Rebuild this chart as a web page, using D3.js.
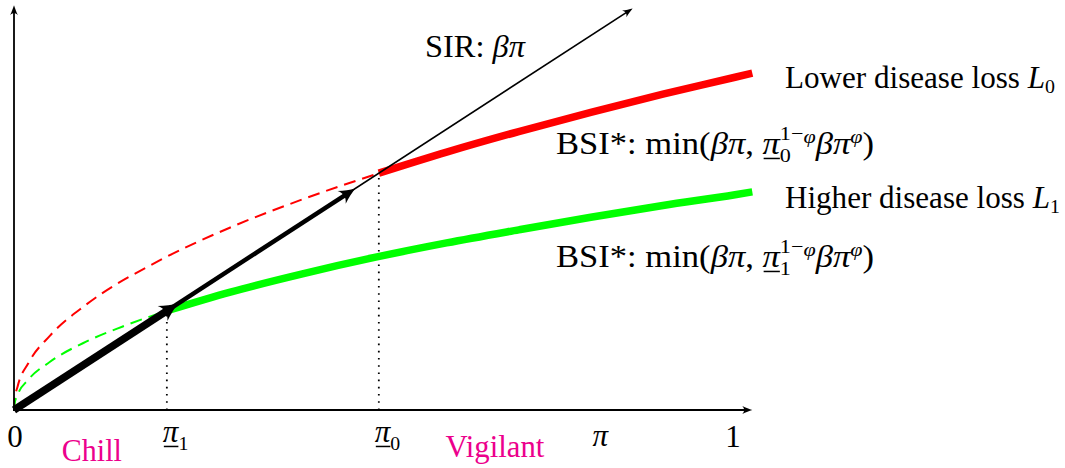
<!DOCTYPE html>
<html><head><meta charset="utf-8">
<script src="https://cdn.jsdelivr.net/npm/d3@7"></script>
<style>html,body{margin:0;padding:0;background:#fff}svg{display:block}text{white-space:pre}</style>
</head><body><svg id="c" width="1065" height="468"></svg>
<script>
// ---- data ----
const beta = 1, phi = 0.5;
const piLow0 = 0.506, piLow1 = 0.212;           // thresholds
const redDashPi   = [0, 0.001, 0.005, 0.02, 0.05, 0.1, 0.2, 0.3, 0.4, 0.506];
const redDashY    = [0, 0.0225, 0.0503, 0.1006, 0.159, 0.225, 0.318, 0.390, 0.450, 0.506];
const redSolidPi  = [0.506, 0.6, 0.7, 0.8, 0.9, 1.0, 1.024];
const redSolidY   = [0.506, 0.551, 0.595, 0.636, 0.675, 0.711, 0.720];
const greenDashPi = [0, 0.001, 0.005, 0.02, 0.05, 0.1, 0.15, 0.212];
const greenDashY  = [0, 0.0146, 0.0326, 0.0651, 0.103, 0.146, 0.178, 0.212];
const greenSolidPi= [0.212, 0.3, 0.4, 0.5, 0.6, 0.7, 0.8, 0.9, 1.0, 1.024];
const greenSolidY = [0.212, 0.252, 0.291, 0.326, 0.357, 0.385, 0.412, 0.437, 0.460, 0.466];
const sirPi = [0, 0.858], sirY = [0, 0.858];
const chillArrowPi = [0, 0.227], chillArrowY = [0, 0.227];
const vigArrowPi = [0.212, 0.473], vigArrowY = [0.212, 0.473];
const axisMaxPi = 1.024, axisMaxY = 0.865;
const tickValues = [0, piLow1, piLow0, 1];
const regionLabels = ["Chill", "Vigilant"];
const regionPos = [0.108, 0.667];

// ---- scales ----
const svg = d3.select("#c");
const x = d3.scaleLinear().domain([0, 1]).range([14, 735]);
const y = d3.scaleLinear().domain([0, 1]).range([410, 410 - 468]);
const FONT = "'Liberation Serif', 'Times New Roman', serif";
const fs = 31;

const line = d3.line().x(d => x(d[0])).y(d => y(d[1])).curve(d3.curveMonotoneX);
const zip = (a, b) => a.map((v, i) => [v, b[i]]);

function arrowHead(g, p0, p1, len, hw, color) {
  const ang = Math.atan2(p1[1] - p0[1], p1[0] - p0[0]) * 180 / Math.PI;
  g.append("path")
    .attr("d", `M0,0 C${-len*0.3},${-hw*0.25} ${-len*0.65},${-hw*0.55} ${-len},${-hw} C${-len*0.75},${-hw*0.35} ${-len*0.75},${hw*0.35} ${-len},${hw} C${-len*0.65},${hw*0.55} ${-len*0.3},${hw*0.25} 0,0 Z`)
    .attr("transform", `translate(${p1[0]},${p1[1]}) rotate(${ang})`)
    .attr("fill", color);
}
function shorten(p0, p1, d) {
  const L = Math.hypot(p1[0]-p0[0], p1[1]-p0[1]);
  return [p1[0] - (p1[0]-p0[0]) * d / L, p1[1] - (p1[1]-p0[1]) * d / L];
}

// dashed curves
svg.append("path").attr("d", line(zip(redDashPi, redDashY))).attr("fill", "none")
  .attr("stroke", "#ff0000").attr("stroke-width", 2).attr("stroke-dasharray", "12,7");
svg.append("path").attr("d", line(zip(greenDashPi, greenDashY))).attr("fill", "none")
  .attr("stroke", "#00ff00").attr("stroke-width", 2).attr("stroke-dasharray", "12,7");

// dotted verticals
[piLow1, piLow0].forEach(p => {
  svg.append("line").attr("x1", x(p)).attr("x2", x(p)).attr("y1", y(0)).attr("y2", y(beta * p))
    .attr("stroke", "#000").attr("stroke-width", 1.8).attr("stroke-dasharray", "1.6,5.6");
});

// solid curves
svg.append("path").attr("d", line(zip(greenSolidPi, greenSolidY))).attr("fill", "none")
  .attr("stroke", "#00ff00").attr("stroke-width", 7.5);
svg.append("path").attr("d", line(zip(redSolidPi, redSolidY))).attr("fill", "none")
  .attr("stroke", "#ff0000").attr("stroke-width", 7.5);

// SIR line
{
  const p0 = [x(sirPi[0]), y(sirY[0])], p1 = [x(sirPi[1]), y(sirY[1])];
  const e = shorten(p0, p1, 4);
  svg.append("line").attr("x1", p0[0]).attr("y1", p0[1]).attr("x2", e[0]).attr("y2", e[1])
    .attr("stroke", "#000").attr("stroke-width", 1.7);
  arrowHead(svg, p0, p1, 10, 4, "#000");
}

// black arrows
{
  const p0 = [x(chillArrowPi[0]), y(chillArrowY[0])], p1 = [x(chillArrowPi[1]), y(chillArrowY[1])];
  const e = shorten(p0, p1, 12);
  svg.append("line").attr("x1", p0[0]).attr("y1", p0[1]).attr("x2", e[0]).attr("y2", e[1])
    .attr("stroke", "#000").attr("stroke-width", 7.5);
  arrowHead(svg, p0, p1, 18, 9, "#000");
}
{
  const p0 = [x(vigArrowPi[0]), y(vigArrowY[0])], p1 = [x(vigArrowPi[1]), y(vigArrowY[1])];
  const e = shorten(p0, p1, 10);
  svg.append("line").attr("x1", p0[0]).attr("y1", p0[1]).attr("x2", e[0]).attr("y2", e[1])
    .attr("stroke", "#000").attr("stroke-width", 4.5);
  arrowHead(svg, p0, p1, 16, 7.5, "#000");
}

// axes
{
  const o = [x(0), y(0)];
  const xe = [x(axisMaxPi), y(0)], ye = [x(0), y(axisMaxY)];
  let e = shorten(o, xe, 5);
  svg.append("line").attr("x1", o[0]-1).attr("y1", o[1]).attr("x2", e[0]).attr("y2", e[1]).attr("stroke", "#000").attr("stroke-width", 1.8);
  arrowHead(svg, o, xe, 10, 4, "#000");
  e = shorten(o, ye, 5);
  svg.append("line").attr("x1", o[0]).attr("y1", o[1]+1).attr("x2", e[0]).attr("y2", e[1]).attr("stroke", "#000").attr("stroke-width", 1.8);
  arrowHead(svg, o, ye, 10, 4, "#000");
}

// ---- math text helper ----
function mathText(px, py, parts, anchor, color, targetW) {
  const g = svg.append("g").attr("font-family", FONT).attr("fill", color || "#000");
  let cx = 0, stackW = null;
  parts.forEach(p => {
    const size = (p.sup || p.sub) ? fs * 0.64 : fs;
    const dy = p.sup ? (p.stack ? -fs * 0.46 : -fs * 0.36) : p.sub ? (p.st ? fs * 0.26 : fs * 0.15) : 0;
    const t = g.append("text").attr("x", cx).attr("y", dy).attr("font-size", size)
      .attr("font-style", p.it ? "italic" : "normal").text(p.t);
    const w = t.node().getComputedTextLength();
    if (p.ul) {
      g.append("rect").attr("x", cx + 1).attr("y", fs * 0.12).attr("width", w - 1).attr("height", 1.5).attr("fill", color || "#000");
    }
    if (p.stack) { stackW = w; return; }
    if (stackW !== null) { cx += Math.max(stackW, w); stackW = null; }
    else cx += w;
  });
  const sx = targetW ? targetW / cx : 1;
  const wTot = cx * sx;
  const sh = anchor === "middle" ? -wTot / 2 : anchor === "end" ? -wTot : 0;
  g.attr("transform", `translate(${px + sh},${py}) scale(${sx},1)`);
  return g;
}

// labels
mathText(425, 57, [{t: "SIR: "}, {t: "βπ", it: 1}], "start", null, 100);
mathText(785, 88, [{t: "Lower disease loss "}, {t: "L", it: 1}, {t: "0", sub: 1}], "start", null, 270);
mathText(785, 208, [{t: "Higher disease loss "}, {t: "L", it: 1}, {t: "1", sub: 1}], "start", null, 275);
function bsi(py, k) {
  mathText(556, py, [
    {t: "BSI*: min("}, {t: "βπ", it: 1}, {t: ", "}, {t: "π", it: 1, ul: 1},
    {t: "1−", sup: 1, stack: 1}, {t: k, sub: 1, st: 1},
    {t: "φ", it: 1, sup: 1, stack2: 1}, {t: "βπ", it: 1}, {t: "φ", it: 1, sup: 1}, {t: ")"}
  ], "start", null, 318);
}
bsi(154, "0");
bsi(267, "1");

// tick labels
mathText(x(tickValues[0]) + 1, 447, [{t: "0"}], "middle");
mathText(x(tickValues[1]) - 4, 442, [{t: "π", it: 1, ul: 1}, {t: "1", sub: 1, st: 1}], "start");
mathText(x(tickValues[2]) - 4, 442, [{t: "π", it: 1, ul: 1}, {t: "0", sub: 1, st: 1}], "start");
mathText(x(tickValues[3]) - 2, 447, [{t: "1"}], "middle");
mathText(x(0.813), 446, [{t: "π", it: 1}], "middle");

// region labels
mathText(x(regionPos[0]), 461, [{t: regionLabels[0]}], "middle", "#ec008c", 60);
mathText(x(regionPos[1]), 457, [{t: regionLabels[1]}], "middle", "#ec008c", 99);
</script></body></html>
